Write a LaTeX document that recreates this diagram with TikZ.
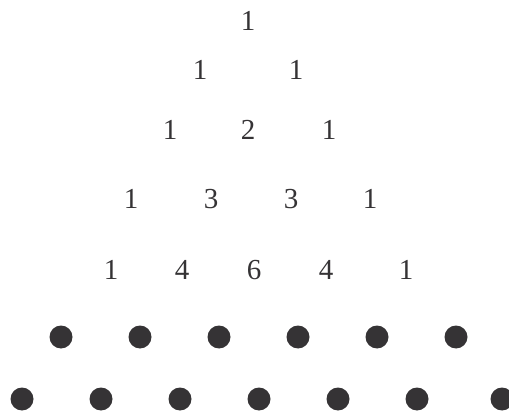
\documentclass[tikz,border=0pt]{standalone}
\usepackage{fontspec}
\setmainfont{Liberation Serif}
\definecolor{ink}{HTML}{353335}
\tikzset{num/.style={inner sep=0pt, text=ink, font=\fontsize{29}{29}\selectfont},
  dot/.style={circle, fill=ink, minimum size=23pt, inner sep=0pt}}
\begin{document}
\begin{tikzpicture}[x=1pt,y=-1pt]
\useasboundingbox (0,0) rectangle (509,414);
\node[num] (r0a) at (248,21) {1};
\node[num] (r1a) at (200,70) {1};
\node[num] (r1b) at (296,70) {1};
\node[num] (r2a) at (170,130) {1};
\node[num] (r2b) at (248,130) {2};
\node[num] (r2c) at (329,130) {1};
\node[num] (r3a) at (131,199) {1};
\node[num] (r3b) at (211,199) {3};
\node[num] (r3c) at (291,199) {3};
\node[num] (r3d) at (370,199) {1};
\node[num] (r4a) at (111,270) {1};
\node[num] (r4b) at (182,270) {4};
\node[num] (r4c) at (254,270) {6};
\node[num] (r4d) at (326,270) {4};
\node[num] (r4e) at (406,270) {1};
\foreach \x [count=\i] in {61,140,219,298,377,456}
  \node[dot] (d5\i) at (\x,337) {};
\foreach \x [count=\i] in {22,101,180,259,338,417,502}
  \node[dot] (d6\i) at (\x,399) {};
\end{tikzpicture}
\end{document}
